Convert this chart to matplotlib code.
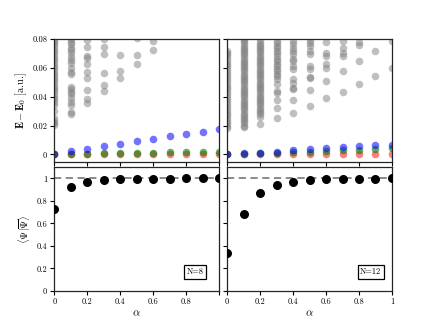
import matplotlib
matplotlib.use("Agg")
import matplotlib.pyplot as plt
import numpy as np

plt.rcParams["font.family"] = "serif"
plt.rcParams["font.serif"] = ["cmr10", "DejaVu Serif"]
plt.rcParams["mathtext.fontset"] = "cm"
plt.rcParams["axes.formatter.use_mathtext"] = True

alpha = [0.0, 0.1, 0.2, 0.3, 0.4, 0.5, 0.6, 0.7, 0.8, 0.9, 1.0]

# excited levels (gray), one list per alpha
gray8 = [
    [0.0205, 0.0215, 0.0232, 0.0255, 0.0300, 0.0345, 0.0365, 0.0385, 0.0400, 0.0420,
     0.0440, 0.0455, 0.0470, 0.0490, 0.0510, 0.0525, 0.0545, 0.0560, 0.0580, 0.0600,
     0.0615, 0.0635, 0.0655, 0.0670, 0.0690, 0.0710, 0.0725, 0.0745, 0.0765, 0.0780, 0.0795],
    [0.0277, 0.0296, 0.0342, 0.0365, 0.0389, 0.0416, 0.0435, 0.0453, 0.0469, 0.0557,
     0.0573, 0.0597, 0.0631, 0.0654, 0.0678, 0.0701, 0.0722, 0.0740, 0.0763, 0.0781, 0.0798],
    [0.0354, 0.0384, 0.0449, 0.0529, 0.0573, 0.0624, 0.0666, 0.0683, 0.0747, 0.0793],
    [0.0440, 0.0481, 0.0567, 0.0694, 0.0747, 0.0798],
    [0.0532, 0.0578, 0.0689],
    [0.0629, 0.0687, 0.0805],
    [0.0724, 0.0786],
    [], [], [], [],
]
gray12 = [
    [0.0185, 0.0200, 0.0215, 0.0230, 0.0250, 0.0270, 0.0290, 0.0310, 0.0330, 0.0350,
     0.0370, 0.0390, 0.0410, 0.0430, 0.0450, 0.0470, 0.0490, 0.0510, 0.0530, 0.0550,
     0.0570, 0.0590, 0.0610, 0.0630, 0.0650, 0.0670, 0.0690, 0.0705, 0.0717],
    [0.0187, 0.0200, 0.0215, 0.0230, 0.0245, 0.0260, 0.0275, 0.0290, 0.0305, 0.0320,
     0.0335, 0.0350, 0.0365, 0.0380, 0.0395, 0.0410, 0.0425, 0.0440, 0.0455, 0.0470,
     0.0485, 0.0500, 0.0515, 0.0530, 0.0545, 0.0560, 0.0575, 0.0590, 0.0605, 0.0620,
     0.0635, 0.0650, 0.0665, 0.0680, 0.0695, 0.0710, 0.0725, 0.0740, 0.0755, 0.0770,
     0.0785, 0.0800],
    [0.0208, 0.0258, 0.0280, 0.0295, 0.0310, 0.0325, 0.0340, 0.0355, 0.0370, 0.0385,
     0.0400, 0.0415, 0.0430, 0.0445, 0.0460, 0.0475, 0.0490, 0.0505, 0.0520, 0.0535,
     0.0550, 0.0565, 0.0580, 0.0595, 0.0610, 0.0625, 0.0640, 0.0655, 0.0670, 0.0685,
     0.0700, 0.0715, 0.0730, 0.0745, 0.0760, 0.0775, 0.0790],
    [0.0250, 0.0320, 0.0380, 0.0428, 0.0440, 0.0486, 0.0520, 0.0543, 0.0560, 0.0578,
     0.0595, 0.0612, 0.0630, 0.0648, 0.0665, 0.0682, 0.0700, 0.0718, 0.0735, 0.0752,
     0.0770, 0.0787],
    [0.0289, 0.0377, 0.0451, 0.0462, 0.0497, 0.0520, 0.0590, 0.0613, 0.0647, 0.0659,
     0.0694, 0.0717, 0.0740, 0.0763, 0.0786],
    [0.0335, 0.0444, 0.0527, 0.0539, 0.0590, 0.0613, 0.0694, 0.0717, 0.0752, 0.0775, 0.0793],
    [0.0388, 0.0511, 0.0601, 0.0624, 0.0682, 0.0705, 0.0781],
    [0.0434, 0.0580, 0.0682, 0.0701, 0.0740, 0.0786],
    [0.0488, 0.0647, 0.0759, 0.0781],
    [0.0543, 0.0717],
    [0.0597, 0.0786],
]

red8 = [0, 0, 0, 0, 0, 0, 0, 0, 0, 0, 0]
green8 = [0, 0.0002, 0.0004, 0.0006, 0.0008, 0.0010, 0.0012, 0.0013, 0.0015, 0.0016, 0.0018]
blue8 = [0, 0.0023, 0.0037, 0.0058, 0.0074, 0.0092, 0.0108, 0.0127, 0.0143, 0.0157, 0.0173]

red12 = [0, 0, 0, 0, 0, 0, 0, 0, 0, 0, 0]
green12 = [0, 0.0003, 0.0006, 0.0010, 0.0014, 0.0019, 0.0023, 0.0028, 0.0032, 0.0036, 0.0041]
blue12 = [0, 0.0007, 0.0011, 0.0018, 0.0028, 0.0035, 0.0042, 0.0049, 0.0056, 0.0062, 0.0068]

overlap8 = [0.729, 0.922, 0.970, 0.985, 0.992, 0.995, 0.997, 0.998, 0.999, 0.999, 1.0]
overlap12 = [0.336, 0.688, 0.869, 0.940, 0.970, 0.985, 0.992, 0.995, 0.997, 0.998, 0.999]

panels = [
    ("N=8", gray8, red8, green8, blue8, overlap8),
    ("N=12", gray12, red12, green12, blue12, overlap12),
]

fig = plt.figure(figsize=(4.36, 3.27), dpi=100)
lefts = [0.1245, 0.521]
w = 0.378
label_x = [0.856, 0.871]
ms = 30

for i, (name, gray, red, green, blue, ov) in enumerate(panels):
    top = fig.add_axes([lefts[i], 0.5046, w, 0.376])
    bot = fig.add_axes([lefts[i], 0.110, w, 0.379])

    for a, levels in zip(alpha, gray):
        top.scatter([a] * len(levels), levels, s=ms, color="gray", alpha=0.5, lw=0)
    top.scatter(alpha, red, s=ms, color="red", alpha=0.5, lw=0)
    top.scatter(alpha, green, s=ms, color="green", alpha=0.6, lw=0)
    top.scatter(alpha, blue, s=ms, color="blue", alpha=0.55, lw=0)
    top.set_ylim(-0.0053, 0.08)

    bot.axhline(1.0, color="gray", ls="--", lw=1.3, dashes=(4, 2.5), zorder=1)
    bot.scatter(alpha, ov, s=ms, color="black", zorder=3)
    bot.set_ylim(0, 1.1)
    bot.set_xlabel(r"$\alpha$", fontsize=8, labelpad=2)
    bot.text(label_x[i], 0.153, name, transform=bot.transAxes, fontsize=6,
             ha="center", va="center",
             bbox=dict(boxstyle="square,pad=0.3", fc="white", ec="black", lw=0.9))

    for ax in (top, bot):
        ax.set_xlim(0, 1)
        ax.set_xticks([0, 0.2, 0.4, 0.6, 0.8, 1.0])
        ax.tick_params(labelsize=6, length=3, width=0.8, pad=2)
        for sp in ax.spines.values():
            sp.set_linewidth(0.9)
            sp.set_color("0.15")

    top.set_yticks([0, 0.02, 0.04, 0.06, 0.08])
    top.set_xticklabels([])
    bot.set_yticks([0, 0.2, 0.4, 0.6, 0.8, 1.0])
    if i == 0:
        bot.set_xticklabels(["0", "0.2", "0.4", "0.6", "0.8", ""])
        top.set_yticklabels(["0", "0.02", "0.04", "0.06", "0.08"])
        bot.set_yticklabels(["0", "0.2", "0.4", "0.6", "0.8", "1"])
        top.set_ylabel(r"$\mathbf{E}-\mathbf{E_0}$ [a.u.]", fontsize=7.5, labelpad=2.5)
        bot.set_ylabel(r"$\langle\Psi|\overline{\Psi}\rangle$", fontsize=7.5, labelpad=2.5)
    else:
        bot.set_xticklabels(["0", "0.2", "0.4", "0.6", "0.8", "1"])
        top.set_yticklabels([])
        bot.set_yticklabels([])

fig.savefig("out.png", dpi=100)
